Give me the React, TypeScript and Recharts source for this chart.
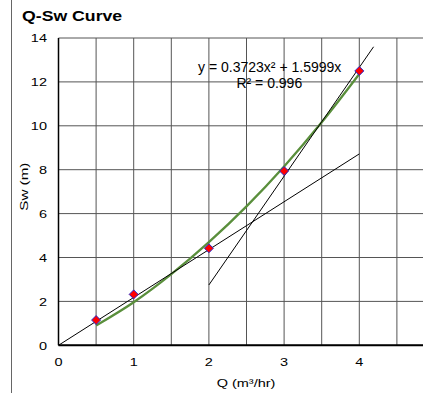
import React from "react";
import { ComposedChart, Line, XAxis, YAxis, CartesianGrid } from "recharts";

// measured points
const qValues = [0.5, 1, 2, 3, 4];
const swValues = [1.15, 2.32, 4.42, 7.94, 12.5];

// polynomial trendline
const trendQ = [0.5, 1, 1.5, 2, 2.5, 3, 3.5, 4];
const trendSw = [0.9, 1.96, 3.24, 4.7, 6.33, 8.15, 10.16, 12.36];

// the two straight construction lines
const lineAQ = [0, 4];
const lineASw = [0, 8.72];
const lineBQ = [2, 4.19];
const lineBSw = [2.75, 13.6];

const xTicks = [0, 0.5, 1, 1.5, 2, 2.5, 3, 3.5, 4, 4.5, 5];
const yTicks = [0, 2, 4, 6, 8, 10, 12, 14];

const FONT = "'Liberation Sans', Arial, sans-serif";

const toRows = (xs: number[], ys: number[]) => xs.map((x, i) => ({ x, y: ys[i] }));

const measured = toRows(qValues, swValues);
const trend = toRows(trendQ, trendSw);
const lineA = toRows(lineAQ, lineASw);
const lineB = toRows(lineBQ, lineBSw);

const YTick = ({ x, y, payload }: any) => (
  <text
    transform={`translate(${x - 11.5},${y + 4.2}) scale(1.25,1)`}
    textAnchor="end"
    fontSize={11.6}
    fontFamily={FONT}
    fill="#000"
  >
    {payload.value}
  </text>
);

const XTick = ({ x, y, payload }: any) => {
  const v = payload.value;
  if (!Number.isInteger(v) || v >= 5) return <g />;
  return (
    <text
      transform={`translate(${x},${y + 20.5}) scale(1.25,1)`}
      textAnchor="middle"
      fontSize={11.6}
      fontFamily={FONT}
      fill="#000"
    >
      {v}
    </text>
  );
};

const Diamond = ({ cx, cy }: any) => {
  if (cx == null || cy == null) return <g />;
  const r = 4.5;
  return (
    <polygon
      points={`${cx},${cy - r} ${cx + r},${cy} ${cx},${cy + r} ${cx - r},${cy}`}
      fill="#ff0000"
      stroke="#2a2acc"
      strokeWidth={1}
    />
  );
};

export default function App() {
  return (
    <div
      style={{
        position: "absolute",
        left: 0,
        top: 0,
        width: 423,
        height: 393,
        overflow: "hidden",
        background: "#fff",
      }}
    >
      <div
        style={{
          position: "absolute",
          left: 11,
          top: 0,
          width: 1,
          height: 393,
          background: "#666",
        }}
      />
      <ComposedChart
        width={435}
        height={393}
        margin={{ top: 38, right: 0.5, bottom: 0.7, left: 0.5 }}
        style={{ position: "absolute", left: 0, top: 0 }}
      >
        <CartesianGrid stroke="#555" strokeWidth={1} verticalPoints={undefined} />
        <XAxis
          dataKey="x"
          type="number"
          domain={[0, 5]}
          ticks={xTicks}
          interval={0}
          allowDataOverflow
          height={47}
          tickLine={false}
          tickSize={0}
          tickMargin={0}
          tick={<XTick />}
          axisLine={{ stroke: "#000", strokeWidth: 2 }}
        />
        <YAxis
          dataKey="y"
          type="number"
          domain={[0, 14]}
          ticks={yTicks}
          interval={0}
          allowDataOverflow
          width={58}
          tickLine={false}
          tickSize={0}
          tickMargin={0}
          tick={<YTick />}
          axisLine={{ stroke: "#000", strokeWidth: 1.5 }}
        />
        <Line
          data={trend}
          dataKey="y"
          type="monotone"
          stroke="#5a8f3c"
          strokeWidth={2.3}
          dot={false}
          isAnimationActive={false}
        />
        <Line
          data={lineA}
          dataKey="y"
          type="linear"
          stroke="#000"
          strokeWidth={1}
          dot={false}
          isAnimationActive={false}
        />
        <Line
          data={lineB}
          dataKey="y"
          type="linear"
          stroke="#000"
          strokeWidth={1}
          dot={false}
          isAnimationActive={false}
        />
        <Line
          data={measured}
          dataKey="y"
          type="linear"
          stroke="none"
          dot={<Diamond />}
          activeDot={false}
          isAnimationActive={false}
        />
        <text
          transform="translate(22,20.7) scale(1.22,1)"
          fontSize={14.5}
          fontWeight="bold"
          fontFamily={FONT}
          fill="#000"
        >
          Q-Sw Curve
        </text>
        <text x={269.7} y={72.4} textAnchor="middle" fontSize={14} fontFamily={FONT} fill="#000">
          y = 0.3723x² + 1.5999x
        </text>
        <text x={269.3} y={88.3} textAnchor="middle" fontSize={14} fontFamily={FONT} fill="#000">
          R² = 0.996
        </text>
        <text
          transform="translate(246,386.7) scale(1.24,1)"
          textAnchor="middle"
          fontSize={11.7}
          fontFamily={FONT}
          fill="#000"
        >
          Q (m³/hr)
        </text>
        <text
          transform="translate(28.3,186.7) rotate(-90) scale(1.3,1)"
          textAnchor="middle"
          fontSize={11.7}
          fontFamily={FONT}
          fill="#000"
        >
          Sw (m)
        </text>
      </ComposedChart>
    </div>
  );
}
